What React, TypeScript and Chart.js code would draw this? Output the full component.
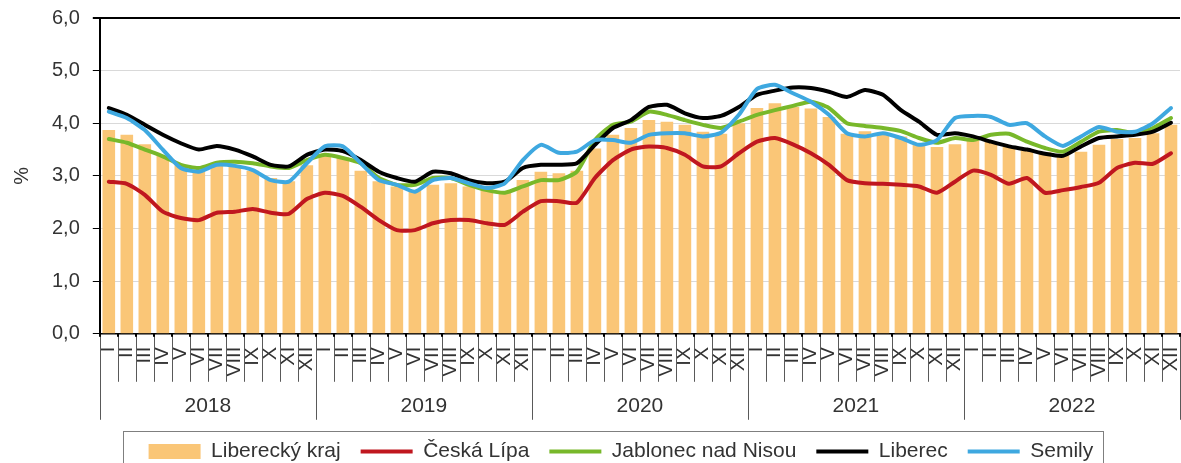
import React, { useEffect, useRef } from 'react';
import { Chart, registerables } from 'chart.js';

Chart.register(...registerables);

const years = ['2018', '2019', '2020', '2021', '2022'];
const months = ['I', 'II', 'III', 'IV', 'V', 'VI', 'VII', 'VIII', 'IX', 'X', 'XI', 'XII'];
const yTickValues = [0, 1, 2, 3, 4, 5, 6];

const seriesNames = ['Liberecký kraj', 'Česká Lípa', 'Jablonec nad Nisou', 'Liberec', 'Semily'];

const libereckyKraj = [
  3.87, 3.78, 3.60, 3.38, 3.20, 3.10, 3.22, 3.20, 3.10, 2.96, 2.90, 3.20,
  3.40, 3.35, 3.10, 2.90, 2.80, 2.73, 2.83, 2.86, 2.80, 2.75, 2.70, 2.92,
  3.08, 3.05, 3.10, 3.52, 3.78, 3.91, 4.06, 4.03, 3.97, 3.84, 3.80, 4.00,
  4.29, 4.38, 4.31, 4.28, 4.12, 3.80, 3.85, 3.80, 3.75, 3.62, 3.55, 3.60,
  3.68, 3.65, 3.55, 3.50, 3.45, 3.40, 3.46, 3.59, 3.70, 3.72, 3.81, 3.97,
];

const ceskaLipa = [
  2.89, 2.85, 2.64, 2.32, 2.20, 2.16, 2.30, 2.32, 2.37, 2.30, 2.28, 2.56,
  2.68, 2.62, 2.41, 2.16, 1.97, 1.97, 2.10, 2.16, 2.16, 2.10, 2.07, 2.32,
  2.52, 2.52, 2.49, 2.96, 3.30, 3.50, 3.56, 3.53, 3.40, 3.18, 3.18, 3.43,
  3.65, 3.72, 3.60, 3.43, 3.21, 2.92, 2.86, 2.85, 2.83, 2.80, 2.68, 2.89,
  3.10, 3.02, 2.85, 2.96, 2.68, 2.73, 2.79, 2.87, 3.15, 3.25, 3.23, 3.43,
];

const jablonec = [
  3.70, 3.63, 3.50, 3.37, 3.21, 3.15, 3.25, 3.27, 3.24, 3.18, 3.15, 3.30,
  3.40, 3.34, 3.24, 2.96, 2.83, 2.83, 2.96, 2.96, 2.83, 2.73, 2.68, 2.80,
  2.92, 2.92, 3.08, 3.68, 3.97, 4.03, 4.22, 4.16, 4.06, 3.97, 3.91, 4.03,
  4.16, 4.25, 4.33, 4.41, 4.29, 4.00, 3.95, 3.91, 3.85, 3.72, 3.63, 3.72,
  3.68, 3.78, 3.80, 3.65, 3.53, 3.46, 3.65, 3.84, 3.87, 3.81, 3.91, 4.10,
];

const liberec = [
  4.29, 4.16, 3.97, 3.78, 3.62, 3.50, 3.57, 3.50, 3.37, 3.21, 3.18, 3.40,
  3.50, 3.47, 3.30, 3.08, 2.96, 2.89, 3.08, 3.05, 2.92, 2.86, 2.89, 3.15,
  3.21, 3.21, 3.24, 3.59, 3.91, 4.06, 4.31, 4.35, 4.19, 4.10, 4.14, 4.31,
  4.54, 4.62, 4.68, 4.67, 4.60, 4.50, 4.63, 4.54, 4.25, 4.03, 3.78, 3.81,
  3.75, 3.65, 3.56, 3.50, 3.42, 3.38, 3.56, 3.72, 3.75, 3.78, 3.84, 4.01,
];

const semily = [
  4.22, 4.10, 3.87, 3.50, 3.15, 3.08, 3.21, 3.19, 3.11, 2.92, 2.89, 3.24,
  3.56, 3.56, 3.24, 2.92, 2.83, 2.70, 2.92, 2.96, 2.86, 2.77, 2.86, 3.30,
  3.59, 3.44, 3.46, 3.68, 3.68, 3.63, 3.78, 3.81, 3.81, 3.75, 3.82, 4.16,
  4.65, 4.73, 4.57, 4.41, 4.16, 3.81, 3.75, 3.81, 3.72, 3.59, 3.68, 4.10,
  4.14, 4.12, 3.97, 4.00, 3.75, 3.57, 3.75, 3.93, 3.84, 3.84, 4.00, 4.29,
];

const FONT = '"Liberation Sans", Arial, sans-serif';
const TEXT = '#333333';
const SEP_COLOR = '#595959';
const LEGEND_SHIFT = -19;
const MONTH_SEP_LEN = 48;
const YEAR_SEP_LEN = 86;

const legendFrame = {
  id: 'legendFrame',
  afterLayout(chart: any) {
    const l = chart.legend;
    if (l) {
      l.left += LEGEND_SHIFT;
      l.right += LEGEND_SHIFT;
    }
  },
  afterDraw(chart: any) {
    const l = chart.legend;
    const hb = l && l.legendHitBoxes;
    if (!hb || !hb.length) return;
    const ctx = chart.ctx;
    const first = hb[0];
    const last = hb[hb.length - 1];
    const x0 = Math.round(first.left - 26) + 0.5;
    const x1 = Math.round(last.left + last.width + 10) + 0.5;
    const y0 = Math.round(first.top - 10) + 0.5;
    ctx.save();
    ctx.strokeStyle = '#7f7f7f';
    ctx.lineWidth = 1;
    ctx.strokeRect(x0, y0, x1 - x0, chart.height - y0 + 20);
    ctx.restore();
  },
};

const axisSeparators = {
  id: 'axisSeparators',
  afterDraw(chart: any) {
    const x = chart.scales.x;
    if (!x) return;
    const n = chart.data.labels.length;
    const ctx = chart.ctx;
    ctx.save();
    ctx.strokeStyle = SEP_COLOR;
    ctx.lineWidth = 1;
    for (let i = 0; i <= n; i++) {
      const px = i === 0 ? x.left : i === n ? x.right : (x.getPixelForValue(i - 1) + x.getPixelForValue(i)) / 2;
      const isYear = i % months.length === 0;
      const xx = Math.min(Math.round(px) + 0.5, chart.width - 0.5);
      ctx.beginPath();
      ctx.moveTo(xx, x.top + 1);
      ctx.lineTo(xx, x.top + (isYear ? YEAR_SEP_LEN : MONTH_SEP_LEN));
      ctx.stroke();
      ctx.fillStyle = '#000000';
      ctx.fillRect(Math.round(px) - 1, x.top, 2, 3);
    }
    ctx.restore();
  },
};

const zeroHorizontalPadding = (scale: any) => {
  scale.paddingLeft = 0;
  scale.paddingRight = 0;
};

function buildData() {
  const labels = years.flatMap((y) => months.map((m) => `${m}/${y}`));
  const lineDs = (label: string, data: number[], color: string, order: number) => ({
    type: 'line' as const,
    label,
    data,
    borderColor: color,
    backgroundColor: color,
    borderWidth: 4,
    pointRadius: 0,
    pointHoverRadius: 0,
    pointStyle: 'line',
    tension: 0.2,
    borderCapStyle: 'round' as const,
    borderJoinStyle: 'round' as const,
    xAxisID: 'x',
    yAxisID: 'y',
    order,
  });
  return {
    labels,
    datasets: [
      {
        type: 'bar' as const,
        label: seriesNames[0],
        data: libereckyKraj,
        backgroundColor: '#FAC677',
        borderWidth: 0,
        categoryPercentage: 1,
        barPercentage: 0.7,
        pointStyle: 'rect',
        xAxisID: 'x',
        yAxisID: 'y',
        order: 10,
      },
      lineDs(seriesNames[1], ceskaLipa, '#C0171F', 4),
      lineDs(seriesNames[2], jablonec, '#78B82A', 3),
      lineDs(seriesNames[3], liberec, '#000000', 2),
      lineDs(seriesNames[4], semily, '#3EA8E0', 1),
    ],
  };
}

export default function App() {
  const canvasRef = useRef<HTMLCanvasElement | null>(null);

  useEffect(() => {
    document.body.style.margin = '0';
    const canvas = canvasRef.current;
    if (!canvas) return;
    Chart.defaults.font.family = FONT;
    const chart = new Chart(canvas, {
      type: 'bar',
      data: buildData() as any,
      plugins: [legendFrame, axisSeparators],
      options: {
        responsive: false,
        animation: false,
        events: [],
        layout: { padding: { left: 8, right: 1, top: 18, bottom: 8 } },
        scales: {
          x: {
            type: 'category',
            position: 'bottom',
            weight: 0,
            offset: true,
            afterFit: zeroHorizontalPadding,
            grid: {
              offset: true,
              drawOnChartArea: false,
              drawTicks: true,
              tickLength: 13,
              color: 'rgba(0,0,0,0)',
              lineWidth: 1,
            },
            border: { display: true, color: '#000000', width: 1.5 },
            ticks: {
              autoSkip: false,
              minRotation: 90,
              maxRotation: 90,
              padding: 0,
              color: TEXT,
              font: { size: 20, family: FONT },
              callback: (_v: any, i: number) => months[i % months.length],
            },
          },
          x2: {
            type: 'category',
            position: 'bottom',
            weight: 1,
            labels: years,
            offset: true,
            afterFit: zeroHorizontalPadding,
            grid: {
              offset: true,
              drawOnChartArea: false,
              drawTicks: true,
              tickLength: 15,
              color: 'rgba(0,0,0,0)',
              lineWidth: 1,
            },
            border: { display: false },
            ticks: {
              autoSkip: false,
              maxRotation: 0,
              minRotation: 0,
              padding: 2,
              color: TEXT,
              font: { size: 21, family: FONT },
            },
          },
          y: {
            min: 0,
            max: 6,
            afterFit: (scale: any) => {
              scale.paddingTop = 0;
              scale.paddingBottom = 0;
            },
            afterBuildTicks: (scale: any) => {
              scale.ticks = yTickValues.map((v) => ({ value: v }));
            },
            grid: {
              color: (ctx: any) => (ctx.tick && ctx.tick.value === 6 ? '#000000' : '#d9d9d9'),
              lineWidth: (ctx: any) => (ctx.tick && ctx.tick.value === 6 ? 2 : 1),
              tickLength: 7,
              tickColor: '#000000',
              drawTicks: true,
            },
            border: { display: true, color: '#000000', width: 2 },
            ticks: {
              padding: 13,
              color: TEXT,
              font: { size: 20, family: FONT },
              callback: (v: any) => Number(v).toFixed(1).replace('.', ','),
            },
            title: {
              display: true,
              text: '%',
              color: TEXT,
              font: { size: 20, family: FONT },
              padding: { top: 2, bottom: 5 },
            },
          },
        },
        plugins: {
          tooltip: { enabled: false },
          title: { display: false },
          legend: {
            display: true,
            position: 'bottom',
            fullSize: false,
            align: 'center',
            labels: {
              usePointStyle: true,
              pointStyleWidth: 52,
              boxHeight: 15,
              padding: 20,
              color: TEXT,
              font: { size: 21, family: FONT },
              sort: (a: any, b: any) => a.datasetIndex - b.datasetIndex,
            },
          },
        },
      } as any,
    });
    return () => chart.destroy();
  }, []);

  return (
    <div style={{ width: 1181, height: 463, overflow: 'hidden', position: 'relative' }}>
      <canvas ref={canvasRef} width={1181} height={480} style={{ display: 'block' }} />
    </div>
  );
}
